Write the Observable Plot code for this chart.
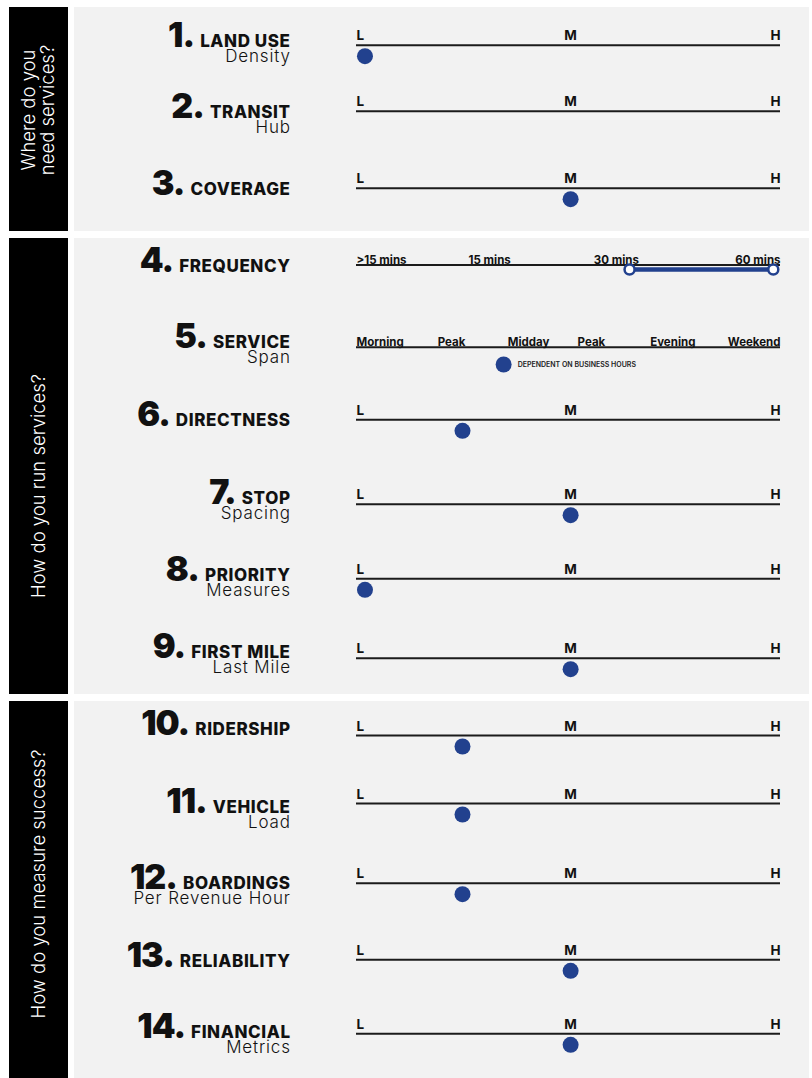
<!DOCTYPE html>
<html><head><meta charset="utf-8">
<script src="https://cdn.jsdelivr.net/npm/d3@7"></script>
<script src="https://cdn.jsdelivr.net/npm/@observablehq/plot@0.6"></script>
<style>
html,body{margin:0;padding:0;background:#fff;}
#chart{position:relative;width:812px;height:1078px;overflow:hidden;font-family:Inter,"Open Sans",sans-serif;}
.bar{position:absolute;background:#000;}
.panel{position:absolute;background:#f2f2f2;}
.side{position:absolute;color:#fff;font-weight:300;font-size:18.5px;line-height:19px;white-space:nowrap;text-align:center;transform:translate(-50%,-50%) rotate(-90deg);}
#chart svg{position:absolute;left:0;top:0;}
</style></head><body><div id="chart"></div><script>
// ---------- data ----------
const sectionLabels = ["Where do you\nneed services?", "How do you run services?", "How do you measure success?"];
const rowNumbers = [1,2,3,4,5,6,7,8,9,10,11,12,13,14];
const rowTitles = ["LAND USE","TRANSIT","COVERAGE","FREQUENCY","SERVICE","DIRECTNESS","STOP","PRIORITY","FIRST MILE","RIDERSHIP","VEHICLE","BOARDINGS","RELIABILITY","FINANCIAL"];
const rowSubtitles = ["Density","Hub","","","Span","","Spacing","Measures","Last Mile","","Load","Per Revenue Hour","","Metrics"];
const rowKinds = ["lmh","lmh","lmh","frequency","span","lmh","lmh","lmh","lmh","lmh","lmh","lmh","lmh","lmh"];
const rowRatings = [0.02,null,0.505,null,null,0.25,0.505,0.02,0.505,0.25,0.25,0.25,0.505,0.505];
const levelLabels = ["L","M","H"];
const levelAt = [0,0.505,1];
const frequencyLabels = [">15 mins","15 mins","30 mins","60 mins"];
const frequencyAt = [0,0.314,0.613,1];
const frequencyRange = [0.644,0.983];
const spanLabels = ["Morning","Peak","Midday","Peak","Evening","Weekend"];
const spanAt = [0,0.224,0.406,0.554,0.746,1];
const spanRating = 0.347;
const spanNote = "DEPENDENT ON BUSINESS HOURS";

// ---------- layout ----------
const W = 812, H = 1078;
const rowLineY = [44.7,110.7,187.7,264.5,346.7,419.3,503.7,578.3,657.7,735,803,882.7,959.3,1033.3];
const titleBaseY = [47.3,118.3,194.7,272.3,348.3,425.7,504,581,658,735,813.3,889,966.7,1038];
const sectionBoxes = [[7,231],[237.5,693.5],[701,1078]];
const sectionTextY = [110,486,884];
const BLUE = "#22418e";

const chart = document.getElementById("chart");
sectionBoxes.forEach(([y0,y1],k)=>{
  const b = document.createElement("div"); b.className="bar";
  Object.assign(b.style,{left:"9px",width:"59px",top:y0+"px",height:(y1-y0)+"px"});
  chart.appendChild(b);
  const p = document.createElement("div"); p.className="panel";
  Object.assign(p.style,{left:"74px",width:"735px",top:y0+"px",height:(y1-y0)+"px"});
  chart.appendChild(p);
  const s = document.createElement("div"); s.className="side";
  s.innerHTML = sectionLabels[k].split("\n").join("<br>");
  Object.assign(s.style,{left:"38px",top:sectionTextY[k]+"px"});
  chart.appendChild(s);
});

const rows = rowTitles.map((t,i)=>({i,num:rowNumbers[i]+".",title:t,sub:rowSubtitles[i],kind:rowKinds[i],rating:rowRatings[i],lineY:rowLineY[i],baseY:titleBaseY[i]}));
const lmhRows = rows.filter(r=>r.kind==="lmh");
function ticksFor(rs, labels, at){
  return rs.flatMap(r=>labels.map((l,j)=>({y:r.lineY,label:l,at:at[j],pos:j===0?"start":j===labels.length-1?"end":"middle"})));
}
const lmhTicks = ticksFor(lmhRows, levelLabels, levelAt);
const freqRow = rows.filter(r=>r.kind==="frequency");
const spanRow = rows.filter(r=>r.kind==="span");
const freqTicks = ticksFor(freqRow, frequencyLabels, frequencyAt);
const spanTicks = ticksFor(spanRow, spanLabels, spanAt);
const rated = rows.filter(r=>r.rating!=null);
const freqEnds = freqRow.flatMap(r=>frequencyRange.map(v=>({x:v,y:r.lineY})));
const freqSeg = freqRow.map(r=>({x1:frequencyRange[0],x2:frequencyRange[1],y:r.lineY}));
const spanDot = spanRow.map(r=>({x:spanRating,y:r.lineY,note:spanNote}));

function tickText(data, size, dy){
  return ["start","middle","end"].map(a=>Plot.text(data.filter(d=>d.pos===a),{x:"at",y:"y",text:"label",textAnchor:a,lineAnchor:"bottom",dy,fontSize:size,fontWeight:700,fill:"#111"}));
}

const plot = Plot.plot({
  width:W,height:H,margin:0,
  style:{background:"transparent",fontFamily:"Inter, 'Open Sans', sans-serif"},
  x:{domain:[0,1],range:[356,780],axis:null},
  y:{domain:[0,H],range:[0,H],axis:null},
  marks:[
    Plot.ruleY(rows,{y:"lineY",x1:0,x2:1,stroke:"#1b1b1b",strokeWidth:2}),
    ...tickText(lmhTicks,13.5,-5),
    ...tickText(freqTicks,11.5,-1.3),
    ...tickText(spanTicks,11.5,-1.2),
    Plot.dot(rated,{x:"rating",y:"lineY",dy:11,r:8,fill:BLUE}),
    Plot.ruleY(freqSeg,{x1:"x1",x2:"x2",y:"y",dy:4.5,stroke:BLUE,strokeWidth:4.5}),
    Plot.dot(freqEnds,{x:"x",y:"y",dy:4.5,r:5,fill:"white",stroke:BLUE,strokeWidth:2.5}),
    Plot.dot(spanDot,{x:"x",y:"y",dy:17.3,r:8,fill:BLUE}),
    Plot.text(spanDot,{x:"x",y:"y",dy:17.3,dx:14,text:"note",textAnchor:"start",fontSize:7,fontWeight:600,fill:"#222"})
  ]
});

// titles (mixed-size labels) placed on the plot's y scale
const ys = plot.scale("y");
const g = d3.select(plot).append("g").attr("font-family","Inter, 'Open Sans', sans-serif").attr("fill","#111");
rows.forEach(r=>{
  const t = g.append("text").attr("x",290.6).attr("y",ys.apply(r.baseY)).attr("text-anchor","end");
  t.append("tspan").attr("font-size",34).attr("font-weight",900).attr("letter-spacing",-1).text(r.num);
  t.append("tspan").attr("dx",6).attr("font-size",17).attr("font-weight",800).attr("letter-spacing",0.6).text(r.title);
  if(r.sub){
    g.append("text").attr("x",290.85).attr("y",ys.apply(r.baseY+14.5)).attr("text-anchor","end")
      .attr("font-size",17).attr("font-weight",300).attr("letter-spacing",0.85).text(r.sub);
  }
});
chart.appendChild(plot);
</script></body></html>
